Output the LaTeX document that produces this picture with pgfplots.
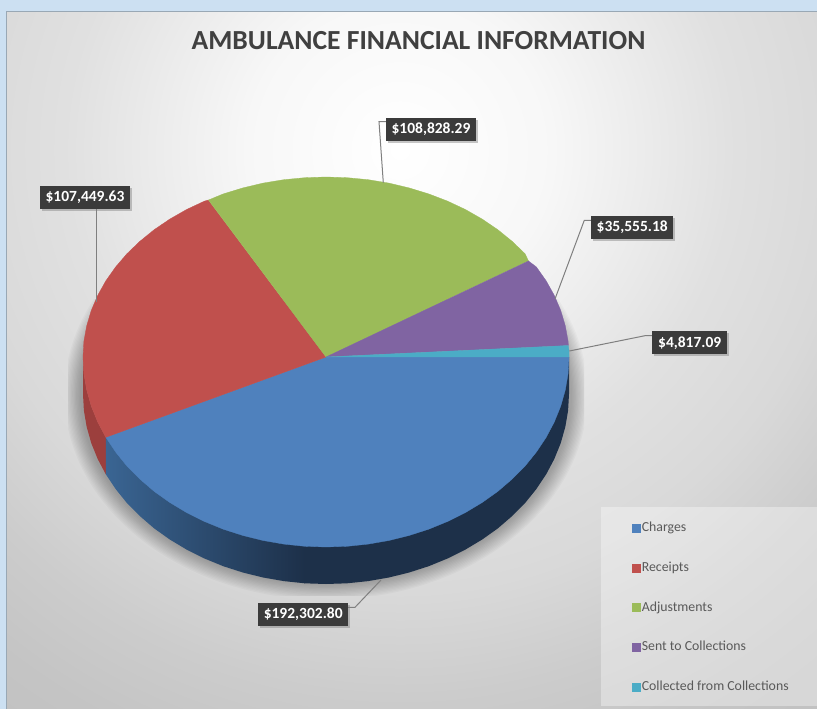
\documentclass[border=0pt]{standalone}
\usepackage{pgfplots}
\pgfplotsset{compat=1.18}
\usepackage{fontspec}
\setmainfont{Carlito}
\usetikzlibrary{shadows}
\definecolor{cBlue}{HTML}{4F81BD}
\definecolor{cRed}{HTML}{C0504D}
\definecolor{cGreen}{HTML}{9BBB59}
\definecolor{cPurple}{HTML}{8064A2}
\definecolor{cCyan}{HTML}{4BACC6}
\definecolor{sRed}{HTML}{9C3F3D}
\definecolor{sBlueA}{HTML}{3A6593}
\definecolor{sBlueB}{HTML}{1D3049}
\definecolor{outer}{HTML}{CCE0F2}
\definecolor{lead}{HTML}{7F7F7F}
\definecolor{tagbg}{HTML}{3B3B3B}
\pgfdeclareradialshading{bgr}{\pgfpoint{0bp}{0bp}}{%
 color(0bp)=(white);
 color(5bp)=(black!3);
 color(11.1bp)=(black!12);
 color(14.8bp)=(black!15);
 color(18.2bp)=(black!20);
 color(21.2bp)=(black!23);
 color(25bp)=(black!25);
 color(50bp)=(black!25)}
\tikzset{tag/.style={fill=tagbg,text=white,font=\fontsize{15.5}{17}\selectfont\bfseries,
  minimum width=#1,minimum height=23pt,inner sep=0pt,anchor=center,
  drop shadow={shadow xshift=2pt,shadow yshift=-2pt,opacity=.45}}}
\begin{document}
\begin{tikzpicture}[x=1pt,y=1pt]
\useasboundingbox (0,0) rectangle (817,709);
\fill[outer] (0,0) rectangle (817,709);
\begin{scope}
 \clip (6,0) rectangle (817,697.5);
 \shade[shading=bgr] (400-750,559-750) rectangle (400+750,559+750);
\end{scope}
\draw[color=black!25!outer,line width=.8pt] (6,0) -- (6,697.5) -- (817,697.5);
% soft shadow of the pie
\begin{scope}
 \clip (68,113) rectangle (584,409);
 \foreach \i in {0,...,12}{
  \fill[black,opacity=.025] (326,315) ellipse ({246+\i*1.3} and {190+\i*1.3});
 }
\end{scope}
% legend panel
\fill[white,opacity=.35] (601,3) rectangle (817,202);
\begin{axis}[
  at={(0,0)},anchor=south west,scale only axis,width=817pt,height=709pt,
  xmin=0,xmax=817,ymin=0,ymax=709,y dir=reverse,hide axis,clip=false,
  legend cell align=left,
  legend image code/.code={\fill[#1] (0pt,-4pt) rectangle (7.7pt,4pt);\path (9.5pt,0pt);},
  legend style={at={(axis cs:632,521.5)},anchor=north west,draw=none,fill=none,
    font=\fontsize{13.8}{15}\selectfont,text=black!65,inner sep=0pt,outer sep=0pt,
    row sep=26.8pt,nodes={inner sep=0pt,outer xsep=2.5pt,text height=10pt,text depth=3pt}},
]
% Values: Charges 192302.80, Receipts 107449.63, Adjustments 108828.29,
% Sent to Collections 35555.18, Collected from Collections 4817.09
% side faces
\addplot[forget plot,fill=sRed,draw=none] coordinates {
(83,357)(83,394)(83.9,410.6)(86.7,427)(91.3,443.2)(97.7,459)(105.8,474.3)(105.8,437.3)(97.7,422)(91.3,406.2)(86.7,390)(83.9,373.6)};
\addplot[forget plot,left color=sBlueA,right color=sBlueB,draw=none] coordinates {
(105.8,437.3)(105.8,474.3)(115.6,489)(126.9,503)(139.9,516.1)(154.2,528.4)(169.8,539.5)(186.6,549.6)(204.5,558.5)(223.3,566.2)(242.9,572.5)(263.1,577.5)(283.8,581.1)(304.8,583.3)(304.8,546.3)};
\addplot[forget plot,fill=sBlueB,draw=none] coordinates {
(304.4,583.3)(326,584)(347.2,583.3)(368.2,581.1)(388.9,577.5)(409.1,572.5)(428.7,566.2)(447.5,558.5)(465.4,549.6)(482.2,539.5)(497.8,528.4)(512.1,516.1)(525.1,503)(536.4,489)(546.2,474.3)(554.3,459)(560.7,443.2)(565.3,427)(568.1,410.6)(569,394)(569,357)(304.4,546.3)};
% top faces
\addplot[fill=cBlue,draw=cBlue,line width=.3pt] coordinates {
(326,357)(569,357)(568.1,373.6)(565.3,390)(560.7,406.2)(554.3,422)(546.2,437.3)(536.4,452)(525.1,466)(512.1,479.1)(497.8,491.4)(482.2,502.5)(465.4,512.6)(447.5,521.5)(428.7,529.2)(409.1,535.5)(388.9,540.5)(368.2,544.1)(347.2,546.3)(326,547)(304.8,546.3)(283.8,544.1)(263.1,540.5)(242.9,535.5)(223.3,529.2)(204.5,521.5)(186.6,512.6)(169.8,502.5)(154.2,491.4)(139.9,479.1)(126.9,466)(115.6,452)(105.8,437.3)};
\addlegendentry{Charges}
\addplot[fill=cRed,draw=cRed,line width=.3pt] coordinates {
(326,357)(105.8,437.3)(97.7,422)(91.3,406.2)(86.7,390)(83.9,373.6)(83,357)(83.9,341.3)(86.7,325.8)(91.3,310.4)(97.7,295.4)(105.8,280.9)(115.6,267)(126.9,253.8)(139.9,241.3)(154.2,229.7)(169.8,219.1)(186.6,209.5)(204.5,201.1)(208.5,200)};
\addlegendentry{Receipts}
\addplot[fill=cGreen,draw=cGreen,line width=.3pt] coordinates {
(326,357)(208.5,200)(223.3,193.9)(242.9,187.9)(263.1,183.1)(283.8,179.7)(304.8,177.7)(326,177)(347.2,177.7)(368.2,179.7)(388.9,183.1)(409.1,187.9)(428.7,193.9)(447.5,201.1)(465.4,209.5)(482.2,219.1)(497.8,229.7)(512.1,241.3)(525.1,253.8)(528.5,261)};
\addlegendentry{Adjustments}
\addplot[fill=cPurple,draw=cPurple,line width=.3pt] coordinates {
(326,357)(528.5,261)(536.4,267)(546.2,280.9)(554.3,295.4)(560.7,310.4)(565.3,325.8)(568.1,341.3)(568.4,345.5)};
\addlegendentry{Sent to Collections}
\addplot[fill=cCyan,draw=cCyan,line width=.3pt] coordinates {
(326,357)(568.4,345.5)(569,351)(569,357)};
\addlegendentry{Collected from Collections}
% leader lines
\addplot[forget plot,lead,line width=1pt] coordinates {(383.3,182.7)(379,121.7)(386,121.7)};
\addplot[forget plot,lead,line width=1pt] coordinates {(96.3,209)(96.3,301.7)};
\addplot[forget plot,lead,line width=1pt] coordinates {(555,299)(584.3,220.3)(591,220.3)};
\addplot[forget plot,lead,line width=1pt] coordinates {(569.3,351)(645,335.7)(652.3,335.7)};
\addplot[forget plot,lead,line width=1pt] coordinates {(381,580)(355,607.3)(348,607.3)};
% tags
\node[tag=90pt] at (axis cs:431,129.5) {\$108,828.29};
\node[tag=90pt] at (axis cs:85,197.5) {\$107,449.63};
\node[tag=82.5pt] at (axis cs:632.2,227.5) {\$35,555.18};
\node[tag=74.5pt] at (axis cs:689.7,342.8) {\$4,817.09};
\node[tag=90pt] at (axis cs:303.2,614.5) {\$192,302.80};
% title
\node[font=\fontsize{27.6}{30}\selectfont\bfseries,text=black!75] at (axis cs:418.5,41) {AMBULANCE FINANCIAL INFORMATION};
\end{axis}
\end{tikzpicture}
\end{document}
